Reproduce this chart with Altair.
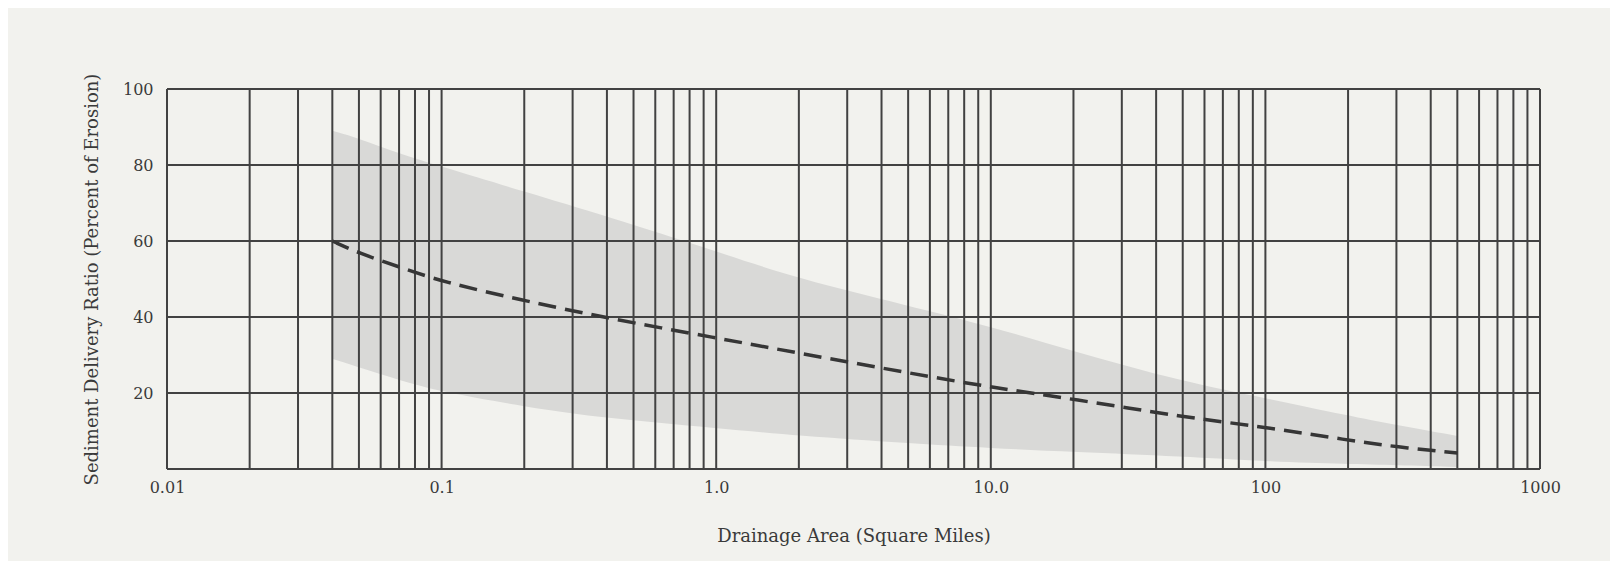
import altair as alt
import pandas as pd

# ---- data ----
band_x = [0.04, 0.05, 0.07, 0.1, 0.2, 0.4, 1, 2, 5, 10, 20, 50, 100, 200, 300, 500]
band_upper = [89, 87, 83, 79.6, 73, 66.5, 57.3, 50, 43, 37.5, 31, 23, 18.7, 14, 11.6, 8.7]
band_lower = [29, 26.8, 23.4, 20.3, 16.4, 13.3, 10.8, 8.7, 6.8, 5.5, 4.5, 3.3, 2.0, 1.3, 1.0, 0.5]

curve_x = [0.04, 0.05, 0.07, 0.1, 0.2, 0.4, 1, 2, 5, 10, 20, 50, 100, 200, 300, 500]
curve_y = [60, 56.8, 53.2, 49.3, 44.3, 39.7, 34.5, 30.5, 25.3, 21.5, 18.4, 13.7, 11, 7.6, 5.8, 4.2]

x_tick_values = [0.01, 0.1, 1, 10, 100, 1000]
x_tick_labels = ["0.01", "0.1", "1.0", "10.0", "100", "1000"]
y_tick_values = [20, 40, 60, 80, 100]

x_decades = [0.01, 0.1, 1, 10, 100]
x_multipliers = [1, 2, 3, 4, 5, 6, 7, 8, 9]
y_grid = [0, 20, 40, 60, 80, 100]

x_grid = [round(d * m, 6) for d in x_decades for m in x_multipliers] + [1000]

band_df = pd.DataFrame({"x": band_x, "upper": band_upper, "lower": band_lower})
curve_df = pd.DataFrame({"x": curve_x, "y": curve_y})
xgrid_df = pd.DataFrame({"x": x_grid})
ygrid_df = pd.DataFrame({"y": y_grid})

FONT = "DejaVu Serif"
INK = "#3a3a3a"
GRID = "#424242"

label_expr = ""
for v, t in zip(x_tick_values, x_tick_labels):
    label_expr += f"abs(datum.value - {v}) < {v} * 1e-6 ? '{t}' : "
label_expr += "''"

xs = alt.Scale(type="log", domain=[0.01, 1000], nice=False)
ys = alt.Scale(domain=[0, 100], nice=False)

X_TITLE = "Drainage Area (Square Miles)"
Y_TITLE = "Sediment Delivery Ratio (Percent of Erosion)"

x_axis = alt.Axis(
    values=x_tick_values, labelExpr=label_expr, grid=False, domain=False, ticks=False,
    labelPadding=10, labelFont=FONT, labelFontSize=16, labelColor=INK, labelFlush=False,
    titleFont=FONT, titleFontSize=18,
    titleFontWeight="normal", titleColor=INK, titleX=686.5, titleY=67,
    titleAlign="center", titleBaseline="middle", labelOverlap=False,
)
y_axis = alt.Axis(
    values=y_tick_values, grid=False, domain=False, ticks=False,
    labelPadding=14, labelFont=FONT, labelFontSize=16, labelColor=INK, labelFlush=False,
    titleFont=FONT, titleFontSize=18, titleFontWeight="normal", titleColor=INK,
    titleX=-75, titleY=190, titleAngle=-90, titleAlign="center", titleBaseline="middle",
)

band = alt.Chart(band_df).mark_area(color="#d9d9d7", opacity=1, interpolate="basis").encode(
    x=alt.X("x:Q", scale=xs, axis=x_axis, title=X_TITLE),
    y=alt.Y("upper:Q", scale=ys, axis=y_axis, title=Y_TITLE),
    y2="lower:Q",
)

xgrid = alt.Chart(xgrid_df).mark_rule(color=GRID, strokeWidth=2).encode(
    x=alt.X("x:Q", scale=xs, axis=x_axis, title=X_TITLE)
)
ygrid = alt.Chart(ygrid_df).mark_rule(color=GRID, strokeWidth=2).encode(
    y=alt.Y("y:Q", scale=ys, axis=y_axis, title=Y_TITLE)
)

curve = alt.Chart(curve_df).mark_line(
    color="#363636", strokeWidth=3.5, strokeDash=[18, 9], interpolate="basis"
).encode(
    x=alt.X("x:Q", scale=xs, axis=x_axis, title=X_TITLE),
    y=alt.Y("y:Q", scale=ys, axis=y_axis, title=Y_TITLE),
)

chart = alt.layer(band, xgrid, ygrid, curve).properties(
    width=1373,
    height=380,
    autosize=alt.AutoSizeParams(type="none"),
    padding={"left": 159, "top": 81, "right": 70, "bottom": 92},
    background="#f2f2ee",
).configure_view(stroke=None)

chart.save("out.html", embed_options={"renderer": "svg", "actions": False})
